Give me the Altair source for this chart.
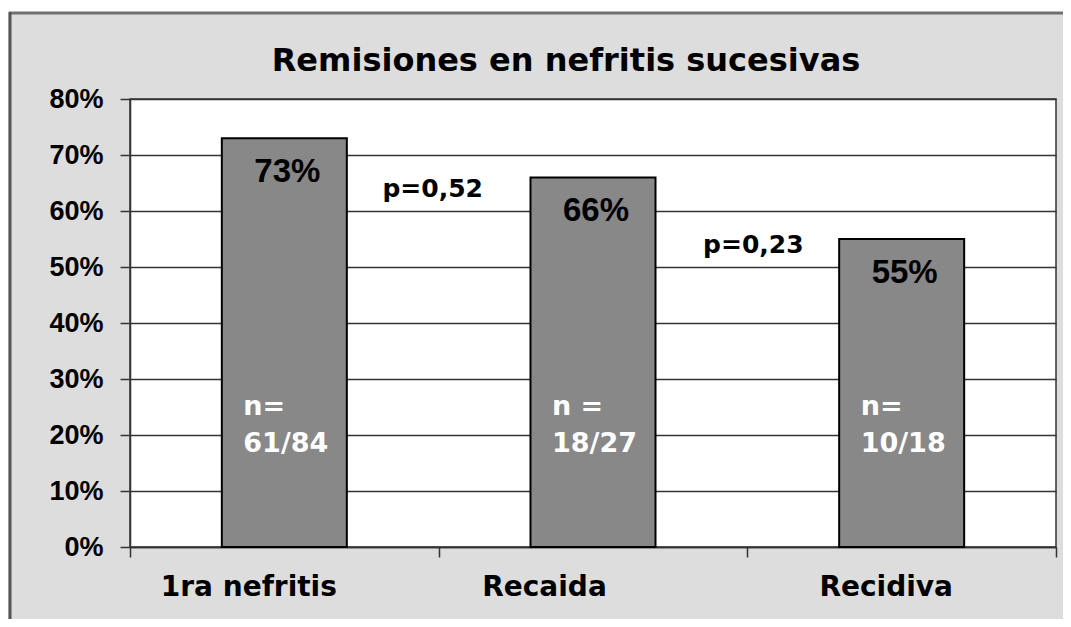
import altair as alt
import pandas as pd

# ---- data ----
categories = ["1ra nefritis", "Recaida", "Recidiva"]
remission = [0.73, 0.66, 0.55]
pct_labels = ["73%", "66%", "55%"]
n_labels = ["n=\n61/84", "n =\n18/27", "n=\n10/18"]

p_labels = ["p=0,52", "p=0,23"]
p_after = ["1ra nefritis", "Recaida"]   # p-value sits at the boundary after this category
p_level = [0.625, 0.525]                # vertical anchor of the p-value text
n_level = 0.236                         # vertical anchor of the n= text inside bars

df = pd.DataFrame({"cat": categories, "val": remission, "pct": pct_labels, "n": n_labels})
dp = pd.DataFrame({"after": p_after, "p": p_labels, "lvl": p_level})
one = pd.DataFrame({"a": [0]})

xscale = alt.Scale(domain=categories, paddingInner=0, paddingOuter=0)
yscale = alt.Scale(domain=[0, 0.8])

label_shift = {
    "condition": [
        {"test": "datum.value === 'Recaida'", "value": -49},
        {"test": "datum.value === 'Recidiva'", "value": -16},
    ],
    "value": -36,
}

xaxis = alt.Axis(title=None, labelAngle=0, tickBand="extent",
                 labelFont="DejaVu Sans", labelFontSize=28, labelFontWeight="bold",
                 labelColor="black", labelPadding=16, labelOffset=label_shift,
                 tickSize=10, tickWidth=1.5,
                 tickColor="#333333", domainColor="#333333", domainWidth=1.5, grid=False)
yaxis = alt.Axis(title=None, format=".0%", values=[i / 10 for i in range(9)],
                 labelFont="Liberation Sans", labelFontSize=27, labelFontWeight="bold",
                 labelColor="black", labelPadding=17, tickSize=10, tickWidth=1.5,
                 tickColor="#333333", domainColor="#333333", domainWidth=1.5,
                 grid=True, gridColor="#333333", gridWidth=1.5)

base = alt.Chart(df)

bars = base.mark_bar(
    width=alt.RelativeBandSize(0.405), fill="#888888", stroke="black", strokeWidth=2
).encode(
    x=alt.X("cat:N", scale=xscale, sort=categories, axis=xaxis),
    y=alt.Y("val:Q", scale=yscale, axis=yaxis),
)

pct = base.mark_text(
    font="Liberation Sans", fontSize=33, fontWeight="bold", color="black",
    baseline="alphabetic", dy=44, dx=3
).encode(
    x=alt.X("cat:N", scale=xscale, sort=categories, axis=xaxis),
    y=alt.Y("val:Q", scale=yscale, axis=yaxis),
    text="pct:N",
)

nlab = base.mark_text(
    font="DejaVu Sans", fontSize=27, fontWeight="bold", color="white",
    baseline="alphabetic", align="left", dx=-41, lineBreak="\n", lineHeight=37
).encode(
    x=alt.X("cat:N", scale=xscale, sort=categories, axis=xaxis),
    y=alt.Y(datum=n_level, scale=yscale, axis=yaxis),
    text="n:N",
)

plab = alt.Chart(dp).mark_text(
    font="DejaVu Sans", fontSize=25, fontWeight="bold", color="black",
    baseline="alphabetic", align="center",
    dx=alt.expr("datum.after === '1ra nefritis' ? -6 : 6")
).encode(
    x=alt.X("after:N", scale=xscale, sort=categories, bandPosition=1, axis=xaxis),
    y=alt.Y("lvl:Q", scale=yscale, axis=yaxis),
    text="p:N",
)

# outer frame of the picture (decoration)
white_strip = alt.Chart(one).mark_rect(color="white").encode(
    x=alt.value(-122), x2=alt.value(934), y=alt.value(-91), y2=alt.value(-87))
frame_top = alt.Chart(one).mark_rule(color="#707070", strokeWidth=3).encode(
    x=alt.value(-121), x2=alt.value(934), y=alt.value(-86))
frame_left = alt.Chart(one).mark_rule(color="#555555", strokeWidth=3).encode(
    x=alt.value(-120), y=alt.value(-87), y2=alt.value(530))

chart = alt.layer(white_strip, frame_top, frame_left, bars, pct, nlab, plab).properties(
    width=926, height=448,
    autosize=alt.AutoSizeParams(type="none"),
    padding={"left": 122, "top": 91, "right": 7, "bottom": 72},
    title=alt.TitleParams("Remisiones en nefritis sucesivas", font="DejaVu Sans", fontSize=32,
                          fontWeight="bold", color="black", anchor="middle", frame="group",
                          dx=-27, offset=-70),
).configure(
    background="#dddddd"
).configure_view(
    fill="white", stroke="#333333", strokeWidth=1.5
)

chart.save("out.html", embed_options={"renderer": "svg", "actions": False})
